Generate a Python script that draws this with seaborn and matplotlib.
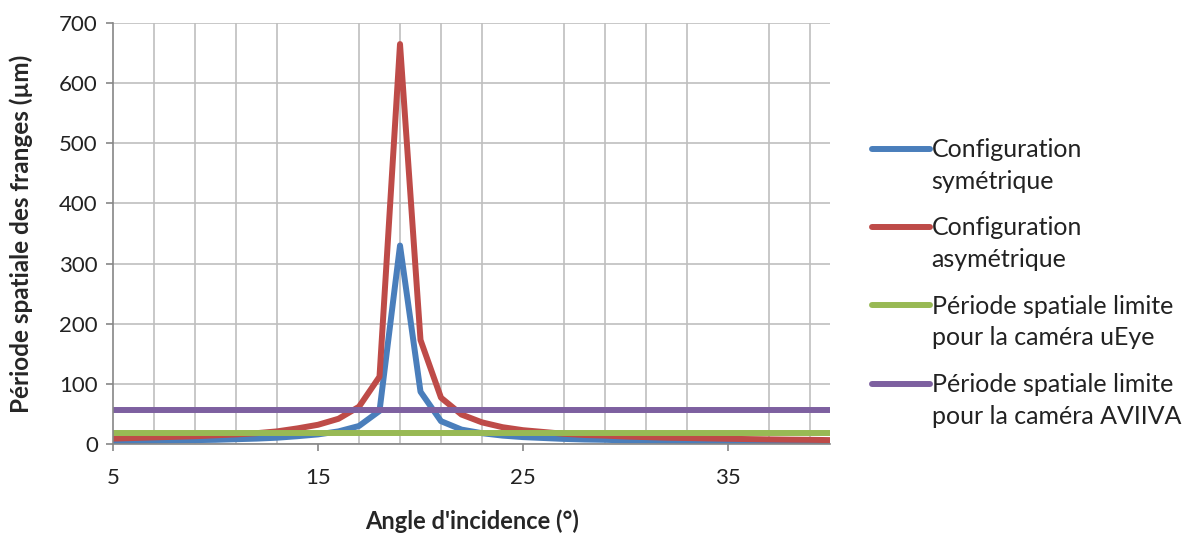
import pandas as pd
import matplotlib.pyplot as plt
import seaborn as sns
import numpy as np
from matplotlib.legend_handler import HandlerLine2D

# 數據（從圖上讀出的估計值）
angles = list(range(5, 41))
sym_period = [4.7, 5, 5.5, 6, 6.5, 7, 8, 9, 10.5, 13, 16, 21, 30, 55, 330, 87, 38, 24,
              18, 14, 11.5, 10, 8.5, 7.5, 7, 6, 5.8, 5.3, 5, 4.6, 4.3, 4, 3.8, 3.6, 3.4, 3.2]
asym_period = [9, 10, 11, 12, 13, 14.5, 16, 18, 21, 26, 32, 42, 62, 112, 665, 173, 77, 49,
               36, 28, 23, 20, 17, 15, 14, 12.5, 11.5, 10.5, 10, 9.3, 8.7, 8.2, 7.7, 7.3, 7, 6.5]
ueye_limit = 18
aviiva_limit = 56

series_names = ['Configuration\nsymétrique',
                'Configuration\nasymétrique',
                'Période spatiale limite\npour la caméra uEye',
                'Période spatiale limite\npour la caméra AVIIVA']
colors = ['#4A7EBB', '#BE4B48', '#98B954', '#7D60A0']

y_ticks = list(range(0, 701, 100))
x_ticks = [5, 15, 25, 35]

# 整理成長表
df = pd.DataFrame({
    'angle': angles * 4,
    'period': sym_period + asym_period + [ueye_limit] * len(angles) + [aviiva_limit] * len(angles),
    'serie': sum([[n] * len(angles) for n in series_names], []),
})


# 圖例線條對齊第一行文字
class HandlerFirstLine(HandlerLine2D):
    def create_artists(self, legend, orig_handle, xdescent, ydescent, width, height, fontsize, trans):
        artists = super().create_artists(legend, orig_handle, xdescent, ydescent,
                                         width, height, fontsize, trans)
        for a in artists:
            a.set_ydata(np.asarray(a.get_ydata()) + 12.5)
        return artists


sns.set_theme(style='white')
plt.rcParams['font.family'] = ['Lato', 'DejaVu Sans']

fig = plt.figure(figsize=(11.85, 5.34), dpi=100)
ax = fig.add_axes([0.0954, 0.1685, 0.6054, 0.7884])

sns.lineplot(data=df, x='angle', y='period', hue='serie', hue_order=series_names,
             palette=colors, linewidth=4.3, ax=ax, legend=True)

ax.set_xlim(5, 40)
ax.set_ylim(0, 700)
ax.set_xticks(x_ticks)
ax.set_yticks(y_ticks)
ax.set_xticks(np.arange(7, 40, 2), minor=True)

# 網格
ax.grid(True, which='major', axis='y', color='#BFBFBF', linewidth=1.2, zorder=0)
ax.grid(True, which='minor', axis='x', color='#BFBFBF', linewidth=1.2, zorder=0)
ax.set_axisbelow(True)

for s in ['top', 'right']:
    ax.spines[s].set_visible(False)
for s in ['left', 'bottom']:
    ax.spines[s].set_color('#868686')
    ax.spines[s].set_linewidth(1.2)

ax.tick_params(axis='both', which='major', direction='out', length=5, width=1.2,
               color='#868686', labelsize=16, labelcolor='#222222')
ax.tick_params(axis='x', which='major', pad=12)
ax.tick_params(axis='x', which='minor', length=0)
ax.tick_params(axis='y', pad=6)
ax.yaxis.set_tick_params(left=True)
ax.xaxis.set_tick_params(bottom=True)

ax.set_xlabel("Angle d'incidence (°)", fontsize=17, fontweight='bold', labelpad=16)
ax.set_ylabel('Période spatiale des franges (µm)', fontsize=17.5, fontweight='bold', labelpad=19)

leg = ax.legend(loc='center left', bbox_to_anchor=(1.044, 0.383), frameon=False,
                fontsize=18, handlelength=2.3, handletextpad=0.08, labelspacing=0.95,
                borderaxespad=0, handler_map={plt.Line2D: HandlerFirstLine()})
for line in leg.get_lines():
    line.set_linewidth(4.3)
for t in leg.get_texts():
    t.set_linespacing(1.45)
    t.set_color('#222222')

plt.savefig('out.png', dpi=100)
